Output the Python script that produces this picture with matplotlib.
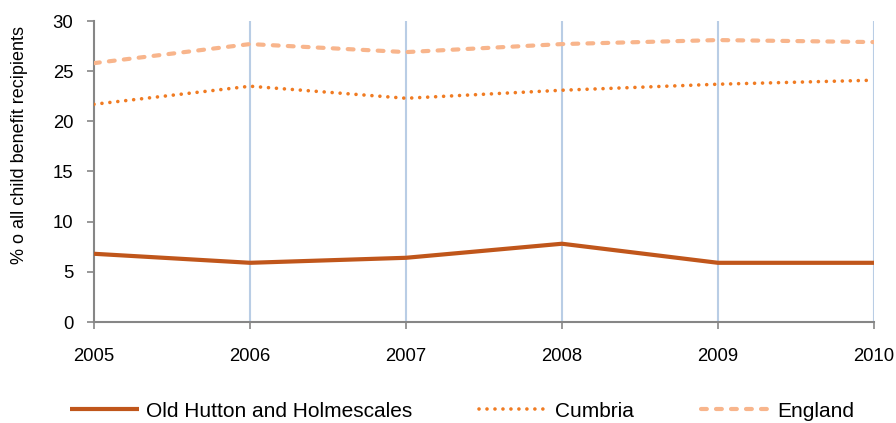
import matplotlib.pyplot as plt

# data
years = [2005, 2006, 2007, 2008, 2009, 2010]
old_hutton = [6.8, 5.9, 6.4, 7.8, 5.9, 5.9]
cumbria = [21.7, 23.5, 22.3, 23.1, 23.7, 24.1]
england = [25.8, 27.7, 26.9, 27.7, 28.1, 27.9]
y_ticks = [0, 5, 10, 15, 20, 25, 30]

plt.rcParams['font.family'] = ['Liberation Sans', 'DejaVu Sans']

W, H = 896, 423
fig = plt.figure(figsize=(W / 100, H / 100), dpi=100)
# plot area in pixels: left 94, right 874, top 21, bottom 322
ax = fig.add_axes([94 / W, 1 - 322 / H, (874 - 94) / W, (322 - 21) / H])

ax.plot(years, old_hutton, color='#c0561b', lw=3, solid_capstyle='butt',
        label='Old Hutton and Holmescales', zorder=3)
ax.plot(years, cumbria, color='#f07b22', lw=2.6, linestyle=(0, (0.01, 2.2)),
        dash_capstyle='round', label='Cumbria', zorder=3)
ax.plot(years, england, color='#f8b58c', lw=3, linestyle=(0, (1.4, 2.2)),
        dash_capstyle='round', label='England', zorder=3)

ax.set_xlim(2005, 2010)
ax.set_ylim(0, 30)
ax.set_xticks(years)
ax.set_yticks(y_ticks)

# vertical gridlines only
for yr in years[1:]:
    ax.axvline(yr, color='#b9cde5', lw=1.5, zorder=1)

for s in ['top', 'right']:
    ax.spines[s].set_visible(False)
for s in ['left', 'bottom']:
    ax.spines[s].set_color('#868686')
    ax.spines[s].set_linewidth(1.5)

ax.tick_params(axis='y', direction='out', length=5, width=1.2, color='#868686',
               labelsize=13.3, pad=10)
ax.tick_params(axis='x', direction='out', length=5, width=1.2, color='#868686',
               labelsize=13.3, pad=14)

fig.text(20 / W, 1 - 145 / H, '% o all child benefit recipients', rotation=90,
         ha='center', va='center', fontsize=13)

fig.legend(loc='center', bbox_to_anchor=(462 / W, 1 - 411 / H), ncol=3,
           frameon=False, fontsize=15, handlelength=3.3, handletextpad=0.35,
           columnspacing=3.2, borderpad=0)

fig.savefig('out.png', dpi=100)
